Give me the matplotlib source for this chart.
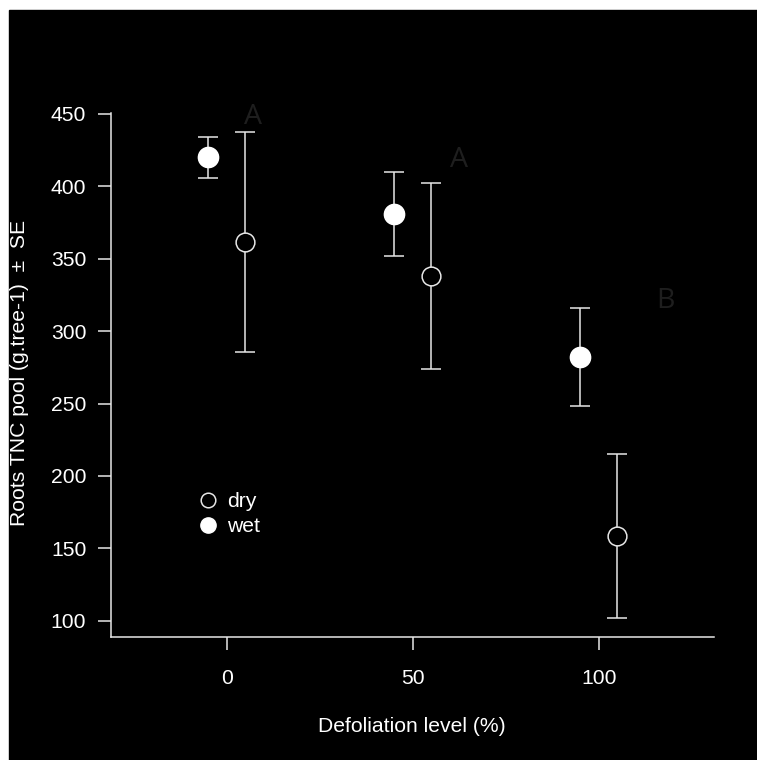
import matplotlib
matplotlib.use("Agg")
import matplotlib.pyplot as plt
from matplotlib.lines import Line2D

# Defoliation treatments (%), offset slightly per watering regime
defoliation = [0, 50, 100]
wet_x = [-5, 45, 95]
dry_x = [5, 55, 105]

# Roots TNC pool (g.tree-1) and standard errors
wet_mean = [420, 381, 282]
wet_se = [14, 29, 34]
dry_mean = [361.5, 338, 158.5]
dry_se = [76, 64, 56.5]

# Significance letters per defoliation level
letters = ["A", "A", "B"]
letter_x = [7, 62.5, 118]
letter_y = [447.5, 418, 320.5]

y_ticks = [100, 150, 200, 250, 300, 350, 400, 450]

FG = "#e6e6e6"
FS = 15.2
plt.rcParams["font.family"] = ["Liberation Sans", "DejaVu Sans"]

fig = plt.figure(figsize=(7.57, 7.60), dpi=100, facecolor="white")
# black panel with a thin white margin at top and left
fig.patches.append(plt.Rectangle((9 / 757, 0), 1, 1 - 10 / 760,
                                 transform=fig.transFigure, color="black",
                                 zorder=-10))

ax = fig.add_axes([111.3 / 757, 1 - 637.3 / 760,
                   (714 - 111.3) / 757, (637.3 - 112.5) / 760])
ax.set_facecolor("black")

ekw = dict(fmt="none", ecolor=FG, elinewidth=1.1, capsize=7.5,
           capthick=1.1, zorder=2)
ax.errorbar(wet_x, wet_mean, yerr=wet_se, **ekw)
ax.errorbar(dry_x, dry_mean, yerr=dry_se, **ekw)
ax.plot(wet_x, wet_mean, "o", ms=14.5, mfc="white", mec="white",
        mew=1.1, zorder=3)
ax.plot(dry_x, dry_mean, "o", ms=13.5, mfc="black", mec=FG,
        mew=1.1, zorder=3)

for lx, ly, t in zip(letter_x, letter_y, letters):
    ax.text(lx, ly, t, ha="center", va="center", fontsize=20.5,
            color="#1e1e1e", family=["Open Sans", "DejaVu Sans"])

lows = [m - s for m, s in zip(wet_mean + dry_mean, wet_se + dry_se)]
highs = [m + s for m, s in zip(wet_mean + dry_mean, wet_se + dry_se)]
pad = 0.04 * (max(highs) - min(lows))
ax.set_ylim(min(lows) - pad, max(highs) + pad)
ax.set_xlim(-25 - 6, 125 + 6)

ax.set_xticks(defoliation)
ax.set_yticks(y_ticks)
ax.tick_params(colors=FG, labelcolor="white", labelsize=FS,
               length=9.4, width=1.1)
ax.tick_params(axis="x", pad=13.2)
ax.tick_params(axis="y", pad=8.6)
for side in ("top", "right"):
    ax.spines[side].set_visible(False)
for side in ("left", "bottom"):
    ax.spines[side].set_color(FG)
    ax.spines[side].set_linewidth(1.1)

ax.set_xlabel("Defoliation level (%)", color="white", fontsize=FS)
ax.xaxis.set_label_coords(411.5 / 757, 1 - 727 / 760, transform=fig.transFigure)
ax.xaxis.label.set_va("center")
ax.set_ylabel("Roots TNC pool (g.tree-1)  \u00b1  SE", color="white",
              fontsize=FS)
ax.yaxis.set_label_coords(19.5 / 757, 1 - 373 / 760, transform=fig.transFigure)
ax.yaxis.label.set_va("center")

handles = [
    Line2D([], [], ls="none", marker="o", ms=10.5, mfc="black", mec=FG, mew=1.1),
    Line2D([], [], ls="none", marker="o", ms=11, mfc="white", mec="white"),
]
leg = ax.legend(handles, ["dry", "wet"], loc="upper left",
                bbox_to_anchor=(197 / 757, 1 - 492 / 760),
                bbox_transform=fig.transFigure, frameon=False,
                fontsize=FS, handlelength=1.0, handletextpad=0.42,
                labelspacing=0.3, borderpad=0, borderaxespad=0)
for t in leg.get_texts():
    t.set_color("white")

fig.savefig("out.png", dpi=100, facecolor=fig.get_facecolor())
